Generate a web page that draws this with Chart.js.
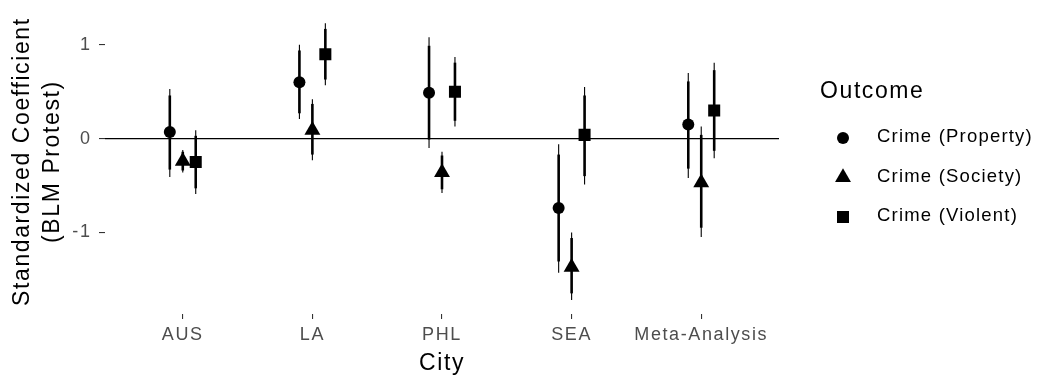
<!DOCTYPE html>
<html>
<head>
<meta charset="utf-8">
<script src="https://cdn.jsdelivr.net/npm/chart.js@4.4.0/dist/chart.umd.min.js"></script>
<style>
  html, body { margin: 0; padding: 0; background: #fff; }
</style>
</head>
<body>
<canvas id="plot" width="1037" height="377"></canvas>
<script>
const cities = ['AUS', 'LA', 'PHL', 'SEA', 'Meta-Analysis'];
const outcomes = ['Crime (Property)', 'Crime (Society)', 'Crime (Violent)'];
const yTicks = [-1, 0, 1];

// one row per outcome: property, society, violent
const est  = [[0.07, 0.60, 0.49, -0.74, 0.15], [-0.24, 0.09, -0.36, -1.37, -0.47], [-0.25, 0.90, 0.50, 0.04, 0.30]];
const hi95 = [[0.53, 1.00, 1.08, -0.06, 0.70], [-0.12, 0.42, -0.14, -1.00, 0.13], [0.09, 1.23, 0.87, 0.55, 0.81]];
const lo95 = [[-0.41, 0.21, -0.10, -1.43, -0.42], [-0.36, -0.23, -0.58, -1.72, -1.05], [-0.59, 0.57, 0.13, -0.49, -0.21]];
const hi90 = [[0.46, 0.94, 0.99, -0.17, 0.61], [-0.14, 0.37, -0.18, -1.06, 0.04], [0.03, 1.17, 0.81, 0.46, 0.73]];
const lo90 = [[-0.33, 0.27, -0.01, -1.31, -0.32], [-0.34, -0.17, -0.54, -1.65, -0.95], [-0.53, 0.63, 0.19, -0.40, -0.13]];

const shapes = ['circle', 'triangle', 'rect'];
const radii = [6, 9.2, 8.5];
const dodge = [-0.1, 0, 0.1];

Chart.defaults.font.family = '"Liberation Sans", Arial, sans-serif';

const datasets = outcomes.map((name, k) => ({
  label: name,
  data: cities.map((c, i) => ({ x: i + 1 + dodge[k], y: est[k][i] })),
  pointStyle: shapes[k],
  pointRadius: radii[k],
  backgroundColor: '#000',
  borderColor: '#000',
  borderWidth: 0
}));

const spacing = {
  id: 'spacing',
  beforeUpdate(chart) { chart.ctx.letterSpacing = '1.6px'; },
  beforeDraw(chart) { chart.ctx.letterSpacing = '1.6px'; }
};

const errorBars = {
  id: 'errorBars',
  beforeDatasetsDraw(chart) {
    const ctx = chart.ctx, xs = chart.scales.x, ys = chart.scales.y, a = chart.chartArea;
    ctx.save();
    ctx.strokeStyle = '#000';
    // zero line
    ctx.lineWidth = 1.4;
    ctx.beginPath();
    ctx.moveTo(a.left, ys.getPixelForValue(0));
    ctx.lineTo(a.right, ys.getPixelForValue(0));
    ctx.stroke();
    outcomes.forEach((o, k) => {
      cities.forEach((c, i) => {
        const px = xs.getPixelForValue(i + 1 + dodge[k]);
        ctx.lineWidth = 1.1;
        ctx.beginPath();
        ctx.moveTo(px, ys.getPixelForValue(lo95[k][i]));
        ctx.lineTo(px, ys.getPixelForValue(hi95[k][i]));
        ctx.stroke();
        ctx.lineWidth = 2.6;
        ctx.beginPath();
        ctx.moveTo(px, ys.getPixelForValue(lo90[k][i]));
        ctx.lineTo(px, ys.getPixelForValue(hi90[k][i]));
        ctx.stroke();
      });
    });
    ctx.restore();
  }
};

const sideLegend = {
  id: 'sideLegend',
  afterDraw(chart) {
    const ctx = chart.ctx;
    ctx.save();
    ctx.fillStyle = '#000';
    ctx.textBaseline = 'middle';
    ctx.textAlign = 'left';
    ctx.letterSpacing = '1.6px';
    ctx.font = '23px "Liberation Sans", Arial, sans-serif';
    ctx.fillText('Outcome', 820, 92);
    ctx.letterSpacing = '1.2px';
    ctx.font = '18.5px "Liberation Sans", Arial, sans-serif';
    outcomes.forEach((name, k) => {
      const y = 138 + k * 39.5;
      Chart.helpers.drawPoint(ctx, { pointStyle: shapes[k], radius: radii[k], borderWidth: 0 }, 843, y);
      ctx.fillStyle = '#000';
      ctx.fillText(name, 877, y - 1);
    });
    ctx.restore();
  }
};

new Chart(document.getElementById('plot'), {
  type: 'scatter',
  data: { datasets },
  plugins: [spacing, errorBars, sideLegend],
  options: {
    responsive: false,
    animation: false,
    layout: { padding: { top: 7, right: 258, left: 0, bottom: 0 } },
    plugins: { legend: { display: false }, tooltip: { enabled: false } },
    scales: {
      x: {
        type: 'linear',
        min: 0.4,
        max: 5.6,
        afterFit(s) { s.height = 63; s.paddingLeft = 0; s.paddingRight = 0; },
        afterBuildTicks(s) { s.ticks = cities.map((c, i) => ({ value: i + 1 })); },
        ticks: {
          callback: v => cities[v - 1],
          color: '#4d4d4d',
          font: { size: 18 },
          padding: 5,
          maxRotation: 0,
          autoSkip: false
        },
        grid: { drawOnChartArea: false, drawTicks: true, tickLength: 5, color: '#333', lineWidth: 1.1 },
        border: { display: false },
        title: { display: true, text: 'City', color: '#000', font: { size: 23 }, padding: { top: 0, bottom: 0 } }
      },
      y: {
        min: -1.87,
        max: 1.38,
        afterFit(s) { s.width = 105; s.paddingTop = 0; s.paddingBottom = 0; },
        afterBuildTicks(s) { s.ticks = yTicks.map(v => ({ value: v })); },
        ticks: { color: '#4d4d4d', font: { size: 18 }, padding: 7.5 },
        grid: { drawOnChartArea: false, drawTicks: true, tickLength: 6, color: '#333', lineWidth: 1.1 },
        border: { display: false },
        title: {
          display: true,
          text: ['Standardized Coefficient', '(BLM Protest)'],
          color: '#000',
          font: { size: 23, lineHeight: 30 / 23 },
          padding: { top: 8, bottom: 0 }
        }
      }
    }
  }
});
</script>
</body>
</html>
